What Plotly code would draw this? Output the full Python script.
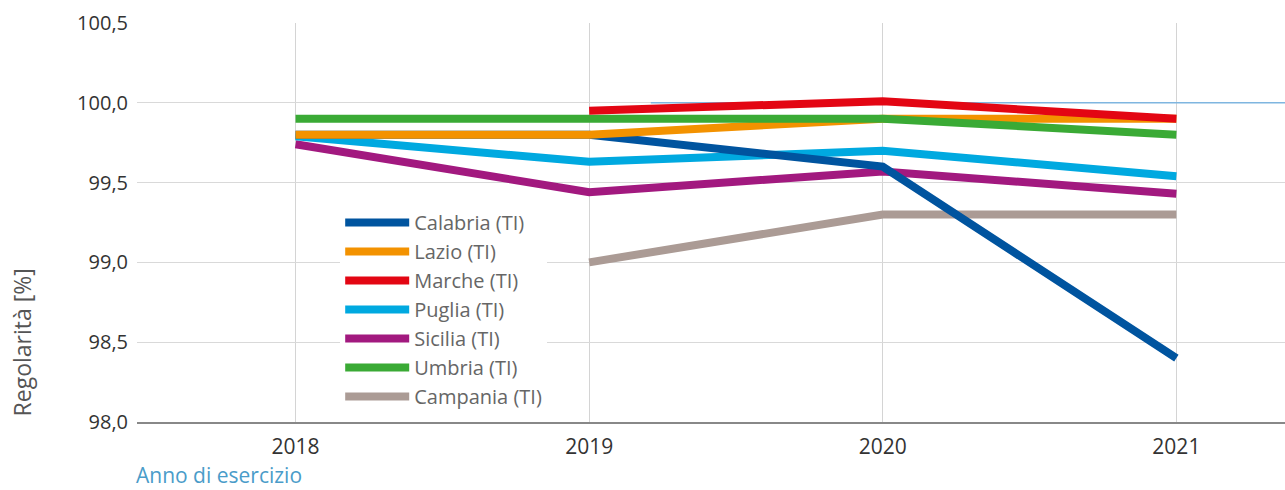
import plotly.graph_objects as go

years = [2018, 2019, 2020, 2021]

calabria = [99.80, 99.80, 99.60, 98.40]
lazio = [99.80, 99.80, 99.90, 99.90]
marche = [None, 99.95, 100.01, 99.90]
puglia = [99.79, 99.63, 99.70, 99.54]
sicilia = [99.74, 99.44, 99.57, 99.43]
umbria = [99.90, 99.90, 99.90, 99.80]
campania = [None, 99.00, 99.30, 99.30]

ref_x = [2019.21, 2021.37]
ref_y = [100.0, 100.0]

y_ticks = [98.0, 98.5, 99.0, 99.5, 100.0, 100.5]

series = [
    ("Calabria (TI)", calabria, "#00549f"),
    ("Lazio (TI)", lazio, "#f39200"),
    ("Marche (TI)", marche, "#e30613"),
    ("Puglia (TI)", puglia, "#00a9e0"),
    ("Sicilia (TI)", sicilia, "#a2197f"),
    ("Umbria (TI)", umbria, "#3aaa35"),
    ("Campania (TI)", campania, "#ab9b95"),
]

fig = go.Figure()

fig.add_trace(go.Scatter(x=ref_x, y=ref_y, mode="lines",
                         line=dict(color="#7fb6e0", width=1.5),
                         showlegend=False, hoverinfo="skip"))

draw_order = ["Campania (TI)", "Sicilia (TI)", "Puglia (TI)", "Calabria (TI)",
              "Lazio (TI)", "Umbria (TI)", "Marche (TI)"]
legend_rank = {name: i for i, (name, _, _) in enumerate(series)}
lookup = {name: (vals, col) for name, vals, col in series}
for name in draw_order:
    vals, col = lookup[name]
    fig.add_trace(go.Scatter(
        x=years, y=vals, mode="lines", name=name,
        line=dict(color=col, width=8),
        legendrank=legend_rank[name] + 1,
    ))

fig.update_layout(
    width=1285, height=490,
    margin=dict(l=137, r=0, t=23, b=68),
    paper_bgcolor="white", plot_bgcolor="white",
    separators=",.",
    font=dict(family="Open Sans, Noto Sans, sans-serif", color="#333333", size=20),
    showlegend=True,
    legend=dict(x=0.177, y=0.549, xanchor="left", yanchor="top",
                bgcolor="white", font=dict(size=20, color="#666666"),
                itemwidth=64, tracegroupgap=0, traceorder="normal"),
    xaxis=dict(range=[2017.46, 2021.37], tickvals=years, ticktext=[str(y) for y in years],
               showgrid=True, gridcolor="#d4d4d4", gridwidth=1, zeroline=False,
               showline=True, linecolor="#888888", linewidth=2,
               ticks="", ticklabelstandoff=5,
               tickfont=dict(size=21, color="#333333")),
    yaxis=dict(range=[98.0, 100.5], tickvals=y_ticks, tickformat=".1f",
               showgrid=True, gridcolor="#d9d9d9", gridwidth=1, zeroline=False,
               showline=False, ticks="", ticklabelstandoff=8,
               tickfont=dict(size=20, color="#333333")),
    annotations=[
        dict(text="Anno di esercizio", xref="paper", yref="paper",
             x=-0.003, y=-0.172, xanchor="left", yanchor="bottom", showarrow=False,
             font=dict(size=21, color="#4a9cc9")),
        dict(text="Regolarità [%]", xref="paper", yref="paper", textangle=-90,
             x=-0.1, y=0.2, xanchor="center", yanchor="middle", showarrow=False,
             font=dict(size=23, color="#555555")),
    ],
)

post = ("document.body.style.margin='0';document.body.style.padding='0';"
        "document.body.style.overflow='hidden';"
        "Plotly.relayout(document.getElementById('{plot_id}'), {width:1285, height:490});")
fig.write_html("out.html", post_script=post, config={"displayModeBar": False})
